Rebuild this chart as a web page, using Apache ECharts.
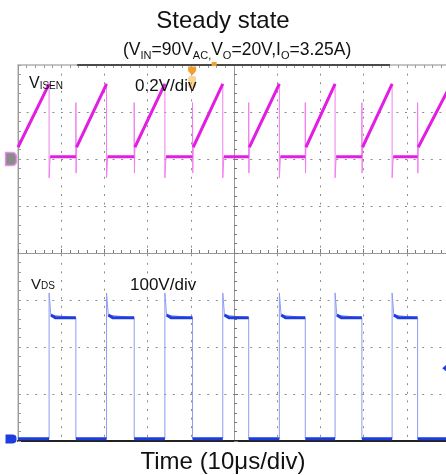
<!DOCTYPE html>
<html>
<head>
<meta charset="utf-8">
<script src="https://cdn.jsdelivr.net/npm/echarts@6/dist/echarts.min.js"></script>
<style>
html, body { margin: 0; padding: 0; background: #fff; }
#chart { width: 446px; height: 475px; }
</style>
</head>
<body>
<div id="chart"></div>
<script>
// switching edges, in us (10us/div)
var vdsRise = [7.2, 20.5, 34.0, 47.4, 60.5, 73.4, 86.6];
var vdsFall = [13.4, 26.9, 40.4, 53.4, 66.5, 79.6, 92.5];

// VDS levels, V (100V/div)
var vdsLow = 5;
var vdsSpike = 315;
var vdsPlateau = 262;
var vdsTrigger = 155;

// VISEN levels, V (0.2V/div)
var isenBase = 0.01;
var isenRampStart = 0.05;
var isenPeak = 0.32;
var isenOnSpike = [0.24, -0.06];
var isenOffDip = -0.08;
var isenEdgeValue = 0.31;

// scope screen: 10 x 8 divisions
var timeRange = [0, 100];
var isenRange = [-1.2, 0.4];
var vdsRange = [0, 800];

var FONT = 'Liberation Sans, Arial, sans-serif';

function buildIsen() {
    var full = [[timeRange[0], isenRampStart]],
        core = [[timeRange[0], isenRampStart]];
    vdsRise.forEach(function(r, i){
        var f = vdsFall[i];
        full.push([r, isenPeak], [r, isenOffDip], [r + 0.25, isenBase],
                  [f, isenBase], [f, isenOnSpike[0]], [f + 0.05, isenOnSpike[1]], [f + 0.15, isenRampStart]);
        core.push([r, isenPeak], [r, null], [r + 0.25, isenBase],
                  [f, isenBase], [f, null], [f + 0.15, isenRampStart]);
    });
    full.push([timeRange[1], isenEdgeValue]);
    core.push([timeRange[1], isenEdgeValue]);
    return {full: full, core: core};
}

function buildVds() {
    var full = [[timeRange[0], vdsLow]],
        core = [[timeRange[0], vdsLow]];
    vdsRise.forEach(function(r, i){
        var f = vdsFall[i];
        full.push([r, vdsLow], [r, vdsSpike], [r + 0.4, vdsPlateau + 6],
                  [f, vdsPlateau], [f, vdsLow]);
        core.push([r, vdsLow], [r, null], [r + 0.4, vdsPlateau + 6], [r + 1.5, vdsPlateau],
                  [f, vdsPlateau], [f, null], [f, vdsLow]);
    });
    full.push([timeRange[1], vdsLow]);
    core.push([timeRange[1], vdsLow]);
    return {full: full, core: core};
}

var isen = buildIsen(),
    vds = buildVds();

function divAxis(min, max, inside, grid) {
    return {
        type: 'value', min: min, max: max, interval: 1,
        axisLine: {show: true, onZero: true, onZeroAxisIndex: 0, lineStyle: {color: '#999', width: 1}},
        axisTick: {show: true, inside: inside, length: 4, lineStyle: {color: '#7a7a7a'}},
        minorTick: {show: true, splitNumber: 5, length: 3, lineStyle: {color: '#7a7a7a'}},
        axisLabel: {show: false},
        splitLine: {show: grid, lineStyle: {color: '#8c8c8c', width: 1, type: [2, 6.6]}}
    };
}

var xAxes = [
    divAxis(-5, 5, true, true),
    divAxis(-5, 5, false, false),
    {
        type: 'value', min: timeRange[0], max: timeRange[1], position: 'bottom',
        axisLine: {show: true, onZero: false, lineStyle: {color: '#222', width: 2}},
        axisTick: {show: false}, axisLabel: {show: false}, splitLine: {show: false}
    },
    {
        type: 'value', min: timeRange[0], max: timeRange[1], interval: 10, position: 'top',
        axisLine: {show: true, onZero: false, lineStyle: {color: '#c4c4c4', width: 2}},
        axisTick: {show: true, inside: true, length: 3, lineStyle: {color: '#999'}},
        minorTick: {show: true, splitNumber: 5, length: 3, lineStyle: {color: '#999'}},
        axisLabel: {show: false}, splitLine: {show: false}
    }
];

var yAxes = [
    divAxis(-4, 4, true, true),
    divAxis(-4, 4, false, false),
    {
        type: 'value', min: isenRange[0], max: isenRange[1], interval: 0.2, position: 'left',
        axisLine: {show: true, onZero: false, lineStyle: {color: '#999', width: 1}},
        axisTick: {show: true, inside: true, length: 3, lineStyle: {color: '#999'}},
        minorTick: {show: true, splitNumber: 5, length: 3, lineStyle: {color: '#999'}},
        axisLabel: {show: false}, splitLine: {show: false}
    },
    {type: 'value', min: vdsRange[0], max: vdsRange[1], show: false}
];

function richStyle(main, sub) {
    return {
        rich: {
            m: {fontFamily: FONT, fontSize: main, fontWeight: 'normal', color: '#111', padding: [0, 0, 2, 0]},
            s: {fontFamily: FONT, fontSize: sub, fontWeight: 'normal', color: '#111', verticalAlign: 'bottom'}
        }
    };
}

var chart = echarts.init(document.getElementById('chart'));

chart.setOption({
    animation: false,
    backgroundColor: '#fff',
    title: [
        {
            text: 'Steady state', left: 'center', top: 4,
            textStyle: {fontFamily: FONT, fontSize: 24, fontWeight: 'normal', color: '#111'}
        },
        {
            text: '{m|(V}{s|IN}{m|=90V}{s|AC,}{m|V}{s|O}{m|=20V,I}{s|O}{m|=3.25A)}',
            left: 118, top: 36,
            textStyle: richStyle(17.5, 11)
        },
        {
            text: '{m|V}{s|ISEN}', left: 24, top: 71,
            textStyle: {
                rich: {
                    m: {fontFamily: FONT, fontSize: 16, fontWeight: 'normal', color: '#111'},
                    s: {fontFamily: FONT, fontSize: 10, fontWeight: 'normal', color: '#111', verticalAlign: 'bottom', padding: [0, 0, 1, 0]}
                }
            }
        },
        {
            text: '0.2V/div', left: 130, top: 73,
            textStyle: {fontFamily: FONT, fontSize: 17, fontWeight: 'normal', color: '#111'}
        },
        {
            text: '{m|V}{s|DS}', left: 26, top: 272,
            textStyle: {
                rich: {
                    m: {fontFamily: FONT, fontSize: 15, fontWeight: 'normal', color: '#111'},
                    s: {fontFamily: FONT, fontSize: 10, fontWeight: 'normal', color: '#111', verticalAlign: 'bottom', padding: [0, 0, 1, 0]}
                }
            }
        },
        {
            text: '100V/div', left: 125, top: 272,
            textStyle: {fontFamily: FONT, fontSize: 17, fontWeight: 'normal', color: '#111'}
        },
        {
            text: 'Time (10\u03bcs/div)', left: 'center', top: 445,
            textStyle: {fontFamily: FONT, fontSize: 24, fontWeight: 'normal', color: '#111'}
        }
    ],
    grid: {
        left: 18, top: 65, width: 432, height: 376,
        show: true, borderColor: '#a8a8a8', borderWidth: 1,
        outerBoundsMode: 'none'
    },
    xAxis: xAxes,
    yAxis: yAxes,
    series: [
        {
            name: 'VISEN edges', type: 'line', xAxisIndex: 2, yAxisIndex: 2,
            data: isen.full, showSymbol: false, silent: true,
            lineStyle: {color: '#f07ef0', width: 1},
            markPoint: {
                symbol: 'path://M0,0 L6,0 Q10,0 10,5 L10,8 Q10,13 6,13 L0,13 Z',
                symbolSize: [11, 13], symbolOffset: [-7, 0], silent: true,
                itemStyle: {color: '#8c8c8c', borderColor: '#e890e8', borderWidth: 1.5},
                label: {show: false},
                data: [{coord: [timeRange[0], 0]}]
            }
        },
        {
            name: 'VISEN', type: 'line', xAxisIndex: 2, yAxisIndex: 2,
            data: isen.core, showSymbol: false, connectNulls: false, silent: true,
            lineStyle: {color: '#e11ee1', width: 3},
            markLine: {
                silent: true, symbol: 'none', label: {show: false},
                lineStyle: {color: '#4a4a4a', width: 2, type: 'solid'},
                data: [[{coord: [13.7, isenRange[1]]}, {coord: [86.1, isenRange[1]]}]]
            },
            markPoint: {
                silent: true, label: {show: false},
                data: [
                    {coord: [40.3, isenRange[1]], symbol: 'roundRect', symbolSize: [8, 12], symbolOffset: [0, 17],
                        itemStyle: {color: 'rgba(245,175,70,0.55)'}},
                    {coord: [40.3, isenRange[1]], symbol: 'path://M0,0 L10,0 L10,5 L5,10 L0,5 Z', symbolSize: [8, 9], symbolOffset: [0, 6],
                        itemStyle: {color: '#f0a030'}},
                    {coord: [45.4, isenRange[1]], symbol: 'rect', symbolSize: [5, 4], symbolOffset: [0, -1],
                        itemStyle: {color: '#f0a030'}}
                ]
            }
        },
        {
            name: 'VDS edges', type: 'line', xAxisIndex: 2, yAxisIndex: 3,
            data: vds.full, showSymbol: false, silent: true,
            lineStyle: {color: '#8e9cf2', width: 1}
        },
        {
            name: 'VDS', type: 'line', xAxisIndex: 2, yAxisIndex: 3,
            data: vds.core, showSymbol: false, connectNulls: false, silent: true,
            lineStyle: {color: '#1f3cdc', width: 3},
            markPoint: {
                silent: true, label: {show: false},
                data: [
                    {coord: [timeRange[0], 0], symbol: 'path://M0,0 L6,0 Q10,0 10,5 L10,8 Q10,13 6,13 L0,13 Z',
                        symbolSize: [11, 9], symbolOffset: [-7, -2], itemStyle: {color: '#1f3cdc'}},
                    {coord: [98.9, vdsTrigger], symbol: 'path://M0,5 L7,0 L7,10 Z',
                        symbolSize: [6, 10], symbolOffset: [0, 0], itemStyle: {color: '#1f3cdc'}}
                ]
            }
        }
    ]
});
</script>
</body>
</html>
